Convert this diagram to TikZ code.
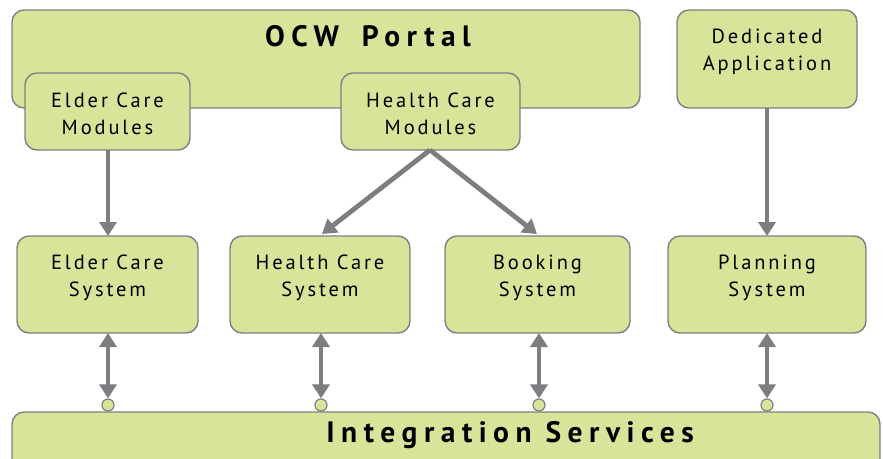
\documentclass[tikz,border=0pt]{standalone}
\usepackage{fontspec}
\setmainfont{PT Sans}
\newfontfamily\boxfont[LetterSpace=14]{PT Sans}
\newfontfamily\titlefont[LetterSpace=22]{PT Sans}
\usetikzlibrary{arrows.meta}
\definecolor{boxgreen}{RGB}{215,228,154}
\definecolor{boxline}{RGB}{128,128,130}
\definecolor{arrgray}{RGB}{125,125,130}
\tikzset{
  gbox/.style={draw=boxline, fill=boxgreen, line width=1.4pt, rounded corners=12pt},
  btext/.style={font=\boxfont\fontsize{20.5}{27}\selectfont, align=center, inner sep=0pt},
  ttext/.style={font=\titlefont\bfseries\fontsize{29.5}{34}\selectfont, inner sep=0pt},
  arr/.style={draw=arrgray, line width=4.8pt, -{Triangle[width=17pt,length=14pt]}},
  darr/.style={draw=arrgray, line width=4.8pt, {Triangle[width=17pt,length=14pt]}-{Triangle[width=17pt,length=14pt]}},
  dot/.style={circle, draw=boxline, fill=boxgreen, line width=1.2pt, minimum size=12pt, inner sep=0pt}
}
\begin{document}
\begin{tikzpicture}[x=1pt,y=-1pt]
\useasboundingbox (0,0) rectangle (883,458);
\clip (0,0) rectangle (883,458);
% portal
\draw[gbox] (12,10) rectangle (640,108);
\node[ttext] (portaltext) at (368,36) {OCW\hspace{9pt} Portal};
% modules
\draw[gbox] (25,73) rectangle (190,150);
\node[btext] (ecmtext) at (107.5,114) {Elder Care\\Modules};
\draw[gbox] (341,73) rectangle (520,150);
\node[btext] (hcmtext) at (430.5,114) {Health Care\\Modules};
% dedicated
\draw[gbox] (677,10) rectangle (857,108);
\node[btext] (datext) at (767,52) {Dedicated\\Application};
% systems
\draw[gbox] (17,236) rectangle (198,333);
\node[btext] (ecstext) at (107.5,278) {Elder Care\\System};
\draw[gbox] (230,236) rectangle (410,333);
\node[btext] (hcstext) at (320,278) {Health Care\\System};
\draw[gbox] (445,236) rectangle (630,333);
\node[btext] (bstext) at (537.5,278) {Booking\\System};
\draw[gbox] (668,236) rectangle (866,333);
\node[btext] (pstext) at (767,278) {Planning\\System};
% integration
\draw[gbox] (12,412) rectangle (880,480);
\node[ttext] (istext) at (510,435) {Integration Services};
% connection points
\coordinate (ecmB) at (108,150);
\coordinate (hcmB) at (430,150);
\coordinate (daB) at (767,108);
\coordinate (ecsT) at (108,236);
\coordinate (hcsT) at (322,234);
\coordinate (bsT) at (537,234);
\coordinate (psT) at (767,236);
\draw[arr] (ecmB) -- (ecsT);
\draw[arr] (hcmB) -- (hcsT);
\draw[arr] (hcmB) -- (bsT);
\draw[arr] (daB) -- (psT);
\node[dot] (d1) at (108,405) {};
\node[dot] (d2) at (321,405) {};
\node[dot] (d3) at (539,405) {};
\node[dot] (d4) at (767,405) {};
\coordinate (ecsB) at (108,333);
\coordinate (hcsB) at (321,333);
\coordinate (bsB) at (539,333);
\coordinate (psB) at (767,333);
\draw[darr] (ecsB) -- (d1.north);
\draw[darr] (hcsB) -- (d2.north);
\draw[darr] (bsB) -- (d3.north);
\draw[darr] (psB) -- (d4.north);
\end{tikzpicture}
\end{document}
